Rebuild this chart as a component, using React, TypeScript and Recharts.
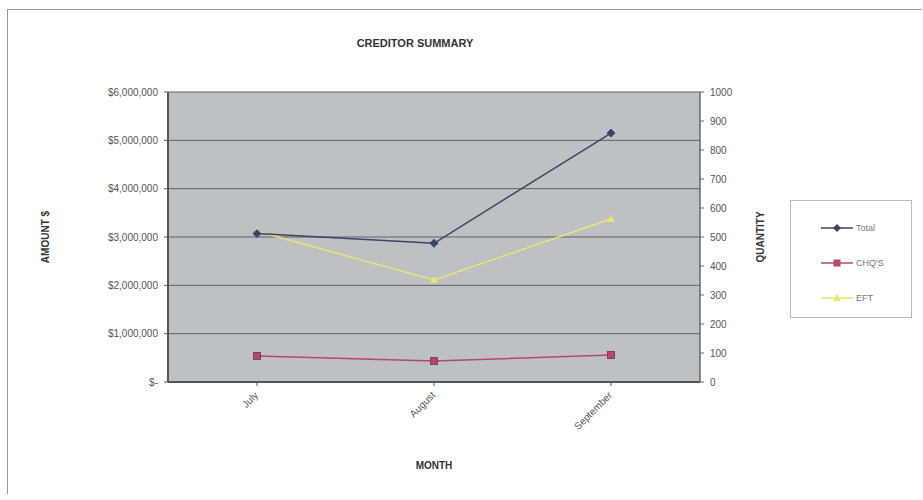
import React from "react";
import {
  LineChart,
  Line,
  XAxis,
  YAxis,
  CartesianGrid,
  Label,
} from "recharts";

const months = ["July", "August", "September"];
const totalAmount = [3070000, 2870000, 5150000];
const chqQuantity = [90, 72, 93];
const eftQuantity = [520, 352, 562];
const leftTicks = [0, 1000000, 2000000, 3000000, 4000000, 5000000, 6000000];
const rightTicks = [0, 100, 200, 300, 400, 500, 600, 700, 800, 900, 1000];

const data = months.map((m, i) => ({
  month: m,
  Total: totalAmount[i],
  "CHQ'S": chqQuantity[i],
  EFT: eftQuantity[i],
}));

const FONT = "'Liberation Sans', Arial, sans-serif";

const fmtMoney = (v: number) =>
  v === 0 ? "$-" : "$" + v.toLocaleString("en-US");

const Diamond = (props: any) => {
  const { cx, cy, fill } = props;
  if (cx == null || cy == null) return null;
  return (
    <path
      d={`M${cx},${cy - 4}L${cx + 4},${cy}L${cx},${cy + 4}L${cx - 4},${cy}Z`}
      fill={fill}
      stroke={fill}
    />
  );
};

const Square = (props: any) => {
  const { cx, cy, fill } = props;
  if (cx == null || cy == null) return null;
  return <rect x={cx - 3.5} y={cy - 3.5} width={7} height={7} fill={fill} stroke="#7a3050" strokeWidth={0.8} />;
};

const Triangle = (props: any) => {
  const { cx, cy, fill } = props;
  if (cx == null || cy == null) return null;
  return (
    <path
      d={`M${cx},${cy - 4}L${cx + 4},${cy + 3}L${cx - 4},${cy + 3}Z`}
      fill={fill}
    />
  );
};

const COLORS = {
  Total: "#3c4468",
  "CHQ'S": "#b4486e",
  EFT: "#e6e66e",
};

const legendItems = [
  { name: "Total", color: COLORS.Total, shape: "diamond" },
  { name: "CHQ'S", color: COLORS["CHQ'S"], shape: "square" },
  { name: "EFT", color: COLORS.EFT, shape: "triangle" },
];

const LegendBox = () => (
  <div
    style={{
      position: "absolute",
      left: 790,
      top: 200,
      width: 122,
      height: 118,
      background: "#fff",
      border: "1px solid #bbb",
      boxSizing: "border-box",
      padding: "9px 0 0 30px",
    }}
  >
    {legendItems.map((it) => (
      <div
        key={it.name}
        style={{ display: "flex", alignItems: "center", height: 35, fontFamily: FONT, fontSize: 9, color: "#777" }}
      >
        <svg width={32} height={10} style={{ marginRight: 3 }}>
          <line x1={0} y1={5} x2={32} y2={5} stroke={it.color} strokeWidth={1.5} />
          {it.shape === "diamond" && <path d="M16,1L20,5L16,9L12,5Z" fill={it.color} />}
          {it.shape === "square" && <rect x={12.5} y={1.5} width={7} height={7} fill={it.color} />}
          {it.shape === "triangle" && <path d="M16,1L20,8L12,8Z" fill={it.color} />}
        </svg>
        <span>{it.name}</span>
      </div>
    ))}
  </div>
);

export default function App() {
  return (
    <div style={{ position: "absolute", left: 0, top: 0, width: 923, height: 500, background: "#fff" }}>
      <div
        style={{
          position: "absolute",
          left: 7,
          top: 9,
          width: 914,
          height: 484,
          borderLeft: "1px solid #999",
          borderTop: "1px solid #999",
        }}
      />
      <div
        style={{
          position: "absolute",
          left: 0,
          width: 830,
          top: 37,
          textAlign: "center",
          fontFamily: FONT,
          fontWeight: "bold",
          fontSize: 11,
          color: "#333",
        }}
      >
        CREDITOR SUMMARY
      </div>
      <LineChart
        width={923}
        height={500}
        data={data}
        margin={{ top: 92, right: 163, bottom: 68, left: 8 }}
        style={{ position: "absolute", left: 0, top: 0 }}
      >
        <CartesianGrid
          yAxisId="left"
          vertical={false}
          stroke="#5c6068"
          fill="#bec1c4"
          fillOpacity={1}
        />
        <XAxis
          dataKey="month"
          height={50}
          padding={{ left: 89, right: 89 }}
          axisLine={{ stroke: "#555", strokeWidth: 2 }}
          tickLine={{ stroke: "#555" }}
          tickSize={4}
          interval={0}
          tick={(props: any) => {
            const { x, y, payload } = props;
            return (
              <text
                x={x}
                y={y + 6}
                transform={`rotate(-45 ${x} ${y + 6})`}
                textAnchor="end"
                dominantBaseline="middle"
                fontFamily={FONT}
                fontSize={10}
                fill="#555"
              >
                {payload.value}
              </text>
            );
          }}
        >
          <Label
            value="MONTH"
            position="center"
            dy={58}
            style={{ fontFamily: FONT, fontWeight: "bold", fontSize: 10, fill: "#333" }}
          />
        </XAxis>
        <YAxis
          yAxisId="left"
          width={160}
          domain={[0, 6000000]}
          ticks={leftTicks}
          tickFormatter={fmtMoney}
          axisLine={{ stroke: "#555", strokeWidth: 2 }}
          tickLine={{ stroke: "#555" }}
          tickSize={4}
          tickMargin={6}
          tick={{ fontFamily: FONT, fontSize: 10, fill: "#555" }}
          interval={0}
        >
          <Label
            value="AMOUNT $"
            angle={-90}
            position="center"
            dx={-43}
            style={{ fontFamily: FONT, fontWeight: "bold", fontSize: 10, fill: "#333" }}
          />
        </YAxis>
        <YAxis
          yAxisId="right"
          orientation="right"
          width={60}
          domain={[0, 1000]}
          ticks={rightTicks}
          axisLine={{ stroke: "#666", strokeWidth: 1.5 }}
          tickLine={{ stroke: "#666" }}
          tickSize={4}
          tickMargin={6}
          tick={{ fontFamily: FONT, fontSize: 10, fill: "#555" }}
          interval={0}
        >
          <Label
            value="QUANTITY"
            angle={-90}
            position="center"
            dx={30}
            style={{ fontFamily: FONT, fontWeight: "bold", fontSize: 10, fill: "#333" }}
          />
        </YAxis>
        <Line
          yAxisId="right"
          dataKey="EFT"
          stroke={COLORS.EFT}
          strokeWidth={1.5}
          dot={<Triangle fill={COLORS.EFT} />}
          isAnimationActive={false}
        />
        <Line
          yAxisId="right"
          dataKey="CHQ'S"
          stroke={COLORS["CHQ'S"]}
          strokeWidth={1.5}
          dot={<Square fill={COLORS["CHQ'S"]} />}
          isAnimationActive={false}
        />
        <Line
          yAxisId="left"
          dataKey="Total"
          stroke={COLORS.Total}
          strokeWidth={1.5}
          dot={<Diamond fill={COLORS.Total} />}
          isAnimationActive={false}
        />
      </LineChart>
      <LegendBox />
    </div>
  );
}
